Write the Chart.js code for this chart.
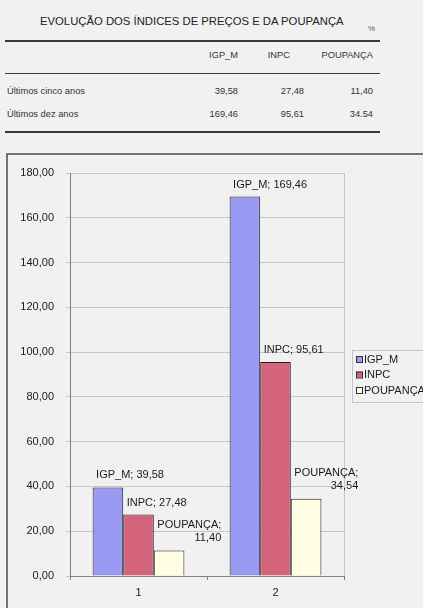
<!DOCTYPE html>
<html lang="pt">
<head>
<meta charset="utf-8">
<title>Evolução dos índices de preços e da poupança</title>
<script src="https://cdn.jsdelivr.net/npm/chart.js@4.4.1/dist/chart.umd.min.js"></script>
<style>
  html, body { margin: 0; padding: 0; }
  body {
    width: 423px; height: 608px; position: relative; overflow: hidden;
    background: #f1f1f1; color: #333;
    font-family: "Liberation Sans", Arial, sans-serif;
  }
  .t { position: absolute; white-space: nowrap; line-height: 14px; height: 14px; }
  .r { text-align: right; }
  .rule { position: absolute; height: 1.5px; background: #3a3a3a; }
  #wrap { position: absolute; left: 0; top: 140px; width: 423px; height: 468px; }
</style>
</head>
<body>
<div class="t" style="left:40px;top:14px;font-size:11.3px;color:#222;">EVOLUÇÃO DOS ÍNDICES DE PREÇOS E DA POUPANÇA</div>
<div class="t" style="left:368px;top:22px;font-size:8px;color:#555;">%</div>
<div class="rule" style="left:5px;top:40px;width:375px;"></div>
<div id="table"></div>
<div class="rule" style="left:5px;top:72.5px;width:375px;"></div>
<div class="rule" style="left:5px;top:131px;width:375px;"></div>

<div id="wrap"><canvas id="chart" width="423" height="468"></canvas></div>

<script>
// Series and categories
const categories = ['1', '2'];
const seriesNames = ['IGP_M', 'INPC', 'POUPANÇA'];
const igpM = [39.58, 169.46];
const inpc = [27.48, 95.61];
const poupanca = [11.40, 34.54];
const periodLabels = ['Últimos cinco anos', 'Últimos dez anos'];
// Table cells as printed (row by row)
const tableCells = [
  ['39,58', '27,48', '11,40'],
  ['169,46', '95,61', '34.54']
];
const yTickMax = 180;
const yTickStep = 20;

const fmt = v => v.toFixed(2).replace('.', ',');

// ---- table above the chart ----
(function buildTable() {
  const host = document.getElementById('table');
  const headerRight = [238, 290, 373];
  const valueRight = [238, 304, 373];
  const rowY = [91, 114];
  let html = '';
  seriesNames.forEach((name, i) => {
    html += `<div class="t r" style="right:${423 - headerRight[i]}px;top:48px;font-size:9.3px;">${name}</div>`;
  });
  periodLabels.forEach((lab, r) => {
    html += `<div class="t" style="left:7px;top:${rowY[r] - 7}px;font-size:9.3px;">${lab}</div>`;
    tableCells[r].forEach((cell, c) => {
      html += `<div class="t r" style="right:${423 - valueRight[c]}px;top:${rowY[r] - 7}px;font-size:9.3px;">${cell}</div>`;
    });
  });
  host.innerHTML = html;
})();

// ---- chart ----
const FONT = '"Liberation Sans", Arial, sans-serif';
const colors = {
  fill: ['#9a9af2', '#d4637c', '#fffde4'],
  border: '#202020'
};

const frameAndLegend = {
  id: 'frameAndLegend',
  beforeDraw(chart) {
    const { ctx, chartArea: a } = chart;
    ctx.save();
    // outer frame of the chart object
    ctx.strokeStyle = '#4a4a4a';
    ctx.lineWidth = 1.5;
    ctx.beginPath();
    ctx.moveTo(423, 14);
    ctx.lineTo(7, 14);
    ctx.lineTo(7, 468);
    ctx.stroke();
    // plot area border (top / right)
    ctx.strokeStyle = '#c4c2d4';
    ctx.lineWidth = 1;
    ctx.beginPath();
    ctx.moveTo(a.left, a.top + 0.5);
    ctx.lineTo(a.right + 0.5, a.top + 0.5);
    ctx.lineTo(a.right + 0.5, a.bottom);
    ctx.stroke();
    ctx.restore();
  },
  afterDatasetsDraw(chart) {
    const { ctx } = chart;
    ctx.save();
    ctx.font = '11px ' + FONT;
    ctx.fillStyle = '#1a1a1a';
    ctx.textBaseline = 'middle';
    chart.data.datasets.forEach((ds, di) => {
      const meta = chart.getDatasetMeta(di);
      meta.data.forEach((bar, i) => {
        const left = bar.x - bar.width / 2 + 3.5;
        const val = fmt(ds.data[i]);
        if (di === 2) {
          const first = ds.label + ';';
          const w = ctx.measureText(first).width;
          ctx.textAlign = 'left';
          ctx.fillText(first, left, bar.y - 26);
          ctx.textAlign = 'right';
          ctx.fillText(val, left + w, bar.y - 12.5);
        } else {
          ctx.textAlign = 'left';
          ctx.fillText(ds.label + '; ' + val, left, bar.y - 12);
        }
      });
    });
    ctx.restore();
  },
  afterDraw(chart) {
    const { ctx } = chart;
    ctx.save();
    // legend frame
    ctx.strokeStyle = '#c4c2d4';
    ctx.lineWidth = 1;
    ctx.strokeRect(352.5, 210.5, 80, 52);
    const ys = [219, 234.5, 250];
    ctx.font = '11px ' + FONT;
    ctx.textBaseline = 'middle';
    ctx.textAlign = 'left';
    chart.data.datasets.forEach((ds, i) => {
      ctx.fillStyle = ds.backgroundColor;
      ctx.fillRect(356, ys[i] - 3, 6, 6);
      ctx.strokeStyle = '#303030';
      ctx.strokeRect(356.5, ys[i] - 2.5, 6, 6);
      ctx.fillStyle = '#1a1a1a';
      ctx.fillText(ds.label, 364, ys[i] + 0.5);
    });
    ctx.restore();
  }
};

new Chart(document.getElementById('chart'), {
  type: 'bar',
  data: {
    labels: categories,
    datasets: [igpM, inpc, poupanca].map((values, i) => ({
      label: seriesNames[i],
      data: values,
      backgroundColor: colors.fill[i],
      borderColor: colors.border,
      borderWidth: 1,
      categoryPercentage: 0.67,
      barPercentage: 1.0
    }))
  },
  options: {
    responsive: false,
    animation: false,
    devicePixelRatio: 1,
    layout: { padding: { top: 33, right: 79, left: 0, bottom: 0 } },
    plugins: { legend: { display: false }, tooltip: { enabled: false } },
    scales: {
      x: {
        grid: { offset: true, drawOnChartArea: false, drawTicks: true, tickLength: 4, color: '#808080' },
        border: { color: '#808080' },
        ticks: { font: { family: FONT, size: 11 }, color: '#1a1a1a', padding: 6 },
        afterFit(scale) { scale.height = 32; }
      },
      y: {
        min: 0,
        max: yTickMax,
        grid: { color: '#c6c6c6', tickLength: 4 },
        border: { color: '#808080' },
        ticks: {
          stepSize: yTickStep,
          font: { family: FONT, size: 11 },
          color: '#1a1a1a',
          padding: 12,
          callback: v => fmt(v)
        },
        afterFit(scale) { scale.width = 70; }
      }
    }
  },
  plugins: [frameAndLegend]
});
</script>
</body>
</html>
